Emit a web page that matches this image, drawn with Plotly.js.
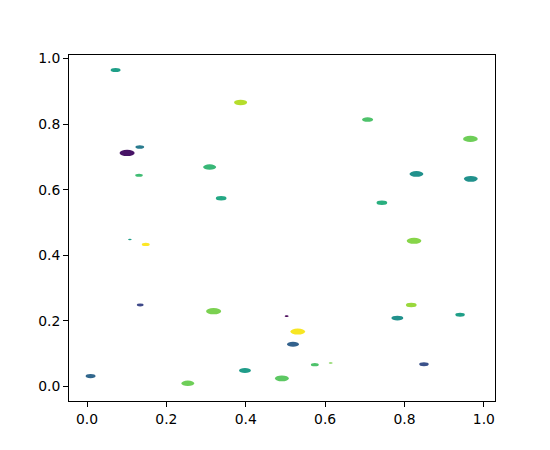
<!DOCTYPE html>
<html>
<head>
<meta charset="utf-8">
<script src="https://cdn.plot.ly/plotly-3.0.1.min.js"></script>
<style>
  html, body { margin: 0; padding: 0; background: #ffffff; }
  #chart { width: 550px; height: 450px; }
</style>
</head>
<body>
<div id="chart"></div>
<script>
// Ellipse centres (data units)
const xs = [0.072, 0.387, 0.133, 0.101, 0.309, 0.131, 0.338, 0.707, 0.966, 0.830,
            0.967, 0.743, 0.108, 0.148, 0.134, 0.319, 0.009, 0.254, 0.398, 0.491,
            0.824, 0.817, 0.503, 0.940, 0.782, 0.531, 0.519, 0.574, 0.614, 0.849];
const ys = [0.965, 0.866, 0.730, 0.712, 0.669, 0.644, 0.574, 0.814, 0.755, 0.648,
            0.633, 0.560, 0.448, 0.433, 0.248, 0.229, 0.031, 0.009, 0.048, 0.024,
            0.444, 0.248, 0.214, 0.218, 0.208, 0.167, 0.128, 0.066, 0.071, 0.067];
// Ellipse widths (data units, x-axis); heights are half the widths
const widths = [0.025, 0.033, 0.022, 0.038, 0.033, 0.019, 0.027, 0.028, 0.037, 0.035,
                0.035, 0.027, 0.009, 0.020, 0.017, 0.038, 0.025, 0.033, 0.030, 0.035,
                0.037, 0.027, 0.010, 0.024, 0.030, 0.037, 0.030, 0.020, 0.010, 0.024];
// Colour values mapped through the viridis colour scale (0..1)
const cvals = [0.56, 0.89, 0.41, 0.05, 0.67, 0.69, 0.60, 0.72, 0.78, 0.50,
               0.50, 0.63, 0.56, 1.00, 0.22, 0.80, 0.33, 0.78, 0.55, 0.75,
               0.82, 0.85, 0.00, 0.56, 0.50, 0.99, 0.31, 0.72, 0.80, 0.25];
const xTicks = [0, 0.2, 0.4, 0.6, 0.8, 1.0];
const yTicks = [0, 0.2, 0.4, 0.6, 0.8, 1.0];
const aspect = 0.5;

const viridis = [
  [0, '#440154'], [0.0627, '#48186a'], [0.1255, '#472d7b'], [0.1882, '#424086'],
  [0.2510, '#3b528b'], [0.3137, '#33638d'], [0.3765, '#2c728e'], [0.4392, '#26828e'],
  [0.5020, '#21918c'], [0.5647, '#1fa088'], [0.6275, '#28ae80'], [0.6902, '#3fbc73'],
  [0.7529, '#5ec962'], [0.8157, '#84d44b'], [0.8784, '#addc30'], [0.9412, '#d8e219'],
  [1, '#fde725']
];
function hex2rgb(h) { return [1,3,5].map(i => parseInt(h.substr(i,2),16)); }
function colorAt(v) {
  for (let i = 1; i < viridis.length; i++) {
    if (v <= viridis[i][0]) {
      const a = viridis[i-1], b = viridis[i];
      const t = (v - a[0]) / (b[0] - a[0]);
      const ca = hex2rgb(a[1]), cb = hex2rgb(b[1]);
      const c = ca.map((q, k) => Math.round(q + (cb[k] - q) * t));
      return 'rgb(' + c.join(',') + ')';
    }
  }
  return viridis[viridis.length-1][1];
}

const shapes = xs.map((x, i) => {
  const w = widths[i], h = widths[i] * aspect;
  return {
    type: 'circle', xref: 'x', yref: 'y',
    x0: x - w/2, x1: x + w/2, y0: ys[i] - h/2, y1: ys[i] + h/2,
    fillcolor: colorAt(cvals[i]), line: {width: 0}, layer: 'above'
  };
});

const trace = {
  type: 'scatter', mode: 'markers', x: xs, y: ys,
  marker: {size: 6, opacity: 0}, hoverinfo: 'x+y', showlegend: false
};

const font = {family: 'DejaVu Sans, sans-serif', size: 13.9, color: '#000'};
const axisCommon = {
  showgrid: false, zeroline: false, showline: true, mirror: true,
  linecolor: '#000', linewidth: 1, ticks: 'outside', ticklen: 4.9,
  tickwidth: 1, tickcolor: '#000', tickfont: font, tickformat: '.1f'
};

const layout = {
  width: 550, height: 450,
  margin: {l: 69, r: 55, t: 55, b: 49, pad: 0},
  paper_bgcolor: '#fff', plot_bgcolor: '#fff',
  showlegend: false,
  font: font,
  xaxis: Object.assign({}, axisCommon, {range: [-0.0454, 1.028], tickvals: xTicks}),
  yaxis: Object.assign({}, axisCommon, {range: [-0.045, 1.011], tickvals: yTicks}),
  shapes: shapes
};

Plotly.newPlot('chart', [trace], layout, {displayModeBar: false, staticPlot: true});
</script>
</body>
</html>
